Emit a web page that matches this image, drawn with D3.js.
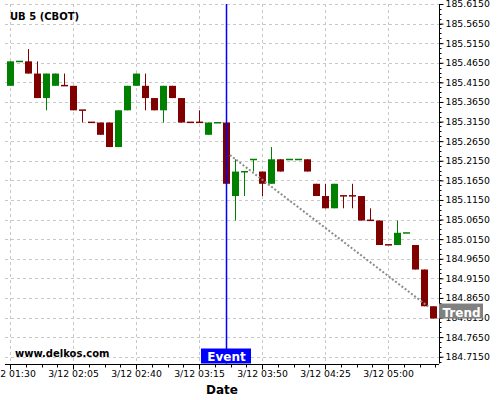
<!DOCTYPE html>
<html><head><meta charset="utf-8">
<script src="https://cdn.jsdelivr.net/npm/d3@7"></script>
<style>html,body{margin:0;padding:0;background:#fff;}svg{display:block;font-family:"DejaVu Sans",sans-serif;}</style>
</head><body>
<svg id="c" width="500" height="400"></svg>
<script>
// ---- data ----
const title = "UB 5 (CBOT)";
const startTime = new Date(2019, 2, 12, 1, 30);
const barMinutes = 5;
const opens  = [185.40625,185.468,185.46875,185.4375,185.375,185.40625,185.4072,185.40625,185.3447,185.3135,185.3125,185.3125,185.25,185.34375,185.40625,185.40625,185.375,185.34375,185.40625,185.375,185.3135,185.3135,185.28125,185.3115,185.3125,185.125,185.1865,185.2177,185.1875,185.15625,185.21875,185.2177,185.2177,185.21875,185.15625,185.125,185.09375,185.126,185.126,185.125,185.0635,185.0625,185.001,185.0,185.0303,185.0,184.9375,184.84375];
const highs  = [185.46875,185.46875,185.5,185.46875,185.4375,185.4375,185.4375,185.40625,185.34375,185.3125,185.3125,185.3125,185.34375,185.40625,185.4375,185.4375,185.375,185.40625,185.40625,185.375,185.3125,185.34375,185.3125,185.3125,185.3125,185.21875,185.1875,185.21875,185.1875,185.25,185.21875,185.21875,185.21875,185.21875,185.15625,185.15625,185.15625,185.125,185.15625,185.125,185.09375,185.0625,185.0,185.0625,185.03125,185.0,184.9375,184.84375];
const lows   = [185.40625,185.46875,185.4375,185.375,185.34375,185.40625,185.40625,185.34375,185.3125,185.3125,185.28125,185.25,185.25,185.34375,185.40625,185.34375,185.34375,185.3125,185.375,185.3125,185.3125,185.3125,185.28125,185.3125,185.15625,185.0625,185.125,185.1875,185.125,185.15625,185.1875,185.21875,185.21875,185.1875,185.125,185.09375,185.09375,185.09375,185.09375,185.0625,185.0625,185.0,185.0,185.0,185.03125,184.9375,184.84375,184.8125];
const closes = [185.46875,185.46875,185.4375,185.375,185.4375,185.4375,185.40625,185.34375,185.34375,185.3125,185.28125,185.25,185.34375,185.40625,185.4375,185.375,185.34375,185.40625,185.375,185.3125,185.3125,185.3125,185.3125,185.3125,185.15625,185.1875,185.1875,185.21875,185.15625,185.21875,185.1875,185.21875,185.21875,185.1875,185.125,185.09375,185.15625,185.125,185.125,185.0625,185.0625,185.0,185.0,185.03125,185.03125,184.9375,184.84375,184.8125];
const xTickLabels = ["3/12 01:30","3/12 02:05","3/12 02:40","3/12 03:15","3/12 03:50","3/12 04:25","3/12 05:00"];
const yTickLabels = ["185.6150","185.5650","185.5150","185.4650","185.4150","185.3650","185.3150","185.2650","185.2150","185.1650","185.1150","185.0650","185.0150","184.9650","184.9150","184.8650","184.8150","184.7650","184.7150"];
const eventTime = new Date(2019, 2, 12, 3, 30);
const trendTimes  = [new Date(2019, 2, 12, 3, 32, 10), new Date(2019, 2, 12, 5, 22, 20)];
const trendValues = [185.2297, 184.8430];
const watermark = "www.delkos.com";

// ---- layout ----
const L = 5, R = 439, T = 4, B = 363.5;
const svg = d3.select("#c");
svg.append("rect").attr("width",500).attr("height",400).attr("fill","#fff");

const times = opens.map((_, i) => d3.timeMinute.offset(startTime, i * barMinutes));
const x = d3.scaleTime()
  .domain([new Date(2019,2,12,1,27,13), new Date(2019,2,12,5,28,19)])
  .range([L, R]);
const y = d3.scaleLinear().domain([184.6977, 185.615]).range([B, T]);

const parseTick = d3.timeParse("%m/%d %H:%M");
const xTickDates = xTickLabels.map(s => { const d = parseTick(s); d.setFullYear(2019); return d; });
const yTickVals = yTickLabels.map(Number);

// grid
const grid = svg.append("g").attr("stroke","#c8c8c8").attr("stroke-dasharray","3,3").attr("stroke-width",1);
yTickVals.forEach(v => {
  const yy = Math.round(y(v)) + 0.5;
  grid.append("line").attr("x1",L).attr("x2",R).attr("y1",yy).attr("y2",yy);
});
xTickDates.forEach(d => {
  const xx = Math.round(x(d)) + 0.5;
  grid.append("line").attr("x1",xx).attr("x2",xx).attr("y1",T).attr("y2",B);
});

// axes
const xAxis = d3.axisBottom(x).tickValues(xTickDates).tickSize(5)
  .tickFormat((d, i) => xTickLabels[i]);
const gx = svg.append("g").attr("transform",`translate(0,${Math.round(B)+0.5})`).call(xAxis);
gx.select(".domain").attr("d", `M${L},0H${R}`).attr("stroke","#000");
gx.selectAll(".tick text").attr("font-size",9.3).attr("font-family","DejaVu Sans").attr("fill","#000").attr("dy","0.45em");
// minor x ticks
const minorX = [];
for (let t = +xTickDates[0]; x(new Date(t)) <= R; t += 8.75 * 60000) minorX.push(new Date(t));
gx.selectAll(".minor").data(minorX).enter().append("line")
  .attr("x1", d => Math.round(x(d)) + 0.5).attr("x2", d => Math.round(x(d)) + 0.5)
  .attr("y1", 0).attr("y2", 3).attr("stroke","#000");

const yAxis = d3.axisRight(y).tickValues(yTickVals).tickSize(4)
  .tickFormat((d, i) => yTickLabels[i]);
const gy = svg.append("g").attr("transform",`translate(${R+0.5},0)`).call(yAxis);
gy.select(".domain").attr("d", `M0,${T}V${B}`).attr("stroke","#000");
gy.selectAll(".tick text").attr("font-size",9.3).attr("font-family","DejaVu Sans").attr("fill","#000").attr("x",6);
const minorY = [];
for (let v = yTickVals[0]; v >= y.domain()[0]; v -= 0.0125) minorY.push(v);
gy.selectAll(".minor").data(minorY).enter().append("line")
  .attr("x1",0).attr("x2",2)
  .attr("y1", d => Math.round(y(d)) + 0.5).attr("y2", d => Math.round(y(d)) + 0.5)
  .attr("stroke","#000");

// candles
const up = "#008000", down = "#800000";
const bw = 7;
const cg = svg.append("g");
opens.forEach((o, i) => {
  const c = closes[i], h = highs[i], l = lows[i];
  const col = c >= o ? up : down;
  const cx = Math.round(x(times[i]));
  cg.append("line").attr("x1", cx + 0.5).attr("x2", cx + 0.5)
    .attr("y1", y(h)).attr("y2", y(l)).attr("stroke", col).attr("stroke-width",1);
  const top = y(Math.max(o, c)), bot = y(Math.min(o, c));
  const hgt = Math.max(1.5, bot - top);
  cg.append("rect").attr("x", cx - 3).attr("width", bw)
    .attr("y", (top + bot) / 2 - hgt / 2).attr("height", hgt).attr("fill", col);
});

// trend
svg.append("line")
  .attr("x1", x(trendTimes[0])).attr("y1", y(trendValues[0]))
  .attr("x2", x(trendTimes[1])).attr("y2", y(trendValues[1]))
  .attr("stroke","#8c8c8c").attr("stroke-width",2).attr("stroke-dasharray","2,2");

// event line
const ex = Math.round(x(eventTime)) + 0.5;
svg.append("line").attr("x1",ex).attr("x2",ex).attr("y1",T).attr("y2",B)
  .attr("stroke","#0000ff").attr("stroke-width",1.5);
svg.append("rect").attr("x", ex - 25.5).attr("y", B - 15).attr("width", 50).attr("height", 15).attr("fill","#0000ff");
svg.append("text").attr("x", ex).attr("y", B - 2.5).attr("text-anchor","middle")
  .attr("font-size",12).attr("font-weight","bold").attr("fill","#fff").text("Event");

// trend label
const ty = y(trendValues[1]);
svg.append("rect").attr("x", R).attr("y", ty - 3).attr("width", 44).attr("height", 15).attr("fill","#808080");
svg.append("text").attr("x", R + 3.5).attr("y", ty + 10).attr("font-size",12).attr("font-weight","bold").attr("fill","#fff").text("Trend");

// texts
svg.append("text").attr("x",10).attr("y",19.5).attr("font-size",10).attr("font-weight","bold").attr("fill","#000").text(title);
svg.append("text").attr("x",15).attr("y",357).attr("font-size",10).attr("font-weight","bold").attr("fill","#000").text(watermark);
svg.append("text").attr("x",(L+R)/2).attr("y",394).attr("text-anchor","middle").attr("font-size",12).attr("font-weight","bold").attr("fill","#000").text("Date");
</script>
</body></html>
